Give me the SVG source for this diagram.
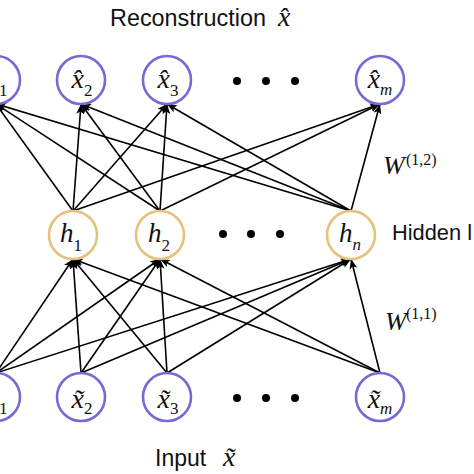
<svg xmlns="http://www.w3.org/2000/svg" width="474" height="474" viewBox="0 0 474 474">
<defs>
<style>
.out{fill:#fff;stroke:#7b68d6;stroke-width:2.6}
.hid{fill:#fff;stroke:#e6c27c;stroke-width:2.6}
.edge{stroke:#000;stroke-width:1.6;fill:none;marker-end:url(#arr)}
.math{font-family:"Liberation Serif","Times New Roman",serif;font-style:italic;fill:#111}
.num{font-style:normal}
.sans{font-family:"Liberation Sans",Arial,sans-serif;fill:#111}
.dot{fill:#000}
</style>
<marker id="arr" viewBox="0 0 10 8" refX="10" refY="4" markerUnits="userSpaceOnUse" markerWidth="10" markerHeight="8" orient="auto">
<path d="M0,0 L10,4 L0,8 L2.5,4 Z" fill="#000"/>
</marker>
</defs>
<rect width="474" height="474" fill="#fff"/>

<text class="sans" x="110" y="26" font-size="23" textLength="156" lengthAdjust="spacingAndGlyphs">Reconstruction</text>
<text class="math" x="278" y="26" font-size="28">x̂</text>

<g id="connectors">
<line class="edge" x1="73" y1="211" x2="-4" y2="104"/>
<line class="edge" x1="73" y1="211" x2="81" y2="104"/>
<line class="edge" x1="73" y1="211" x2="167" y2="104"/>
<line class="edge" x1="73" y1="211" x2="380" y2="104"/>
<line class="edge" x1="160" y1="211" x2="-4" y2="104"/>
<line class="edge" x1="160" y1="211" x2="81" y2="104"/>
<line class="edge" x1="160" y1="211" x2="167" y2="104"/>
<line class="edge" x1="160" y1="211" x2="380" y2="104"/>
<line class="edge" x1="351" y1="211" x2="-4" y2="104"/>
<line class="edge" x1="351" y1="211" x2="81" y2="104"/>
<line class="edge" x1="351" y1="211" x2="167" y2="104"/>
<line class="edge" x1="351" y1="211" x2="380" y2="104"/>
<line class="edge" x1="-4" y1="373" x2="73" y2="259"/>
<line class="edge" x1="-4" y1="373" x2="160" y2="259"/>
<line class="edge" x1="-4" y1="373" x2="351" y2="259"/>
<line class="edge" x1="81" y1="373" x2="73" y2="259"/>
<line class="edge" x1="81" y1="373" x2="160" y2="259"/>
<line class="edge" x1="81" y1="373" x2="351" y2="259"/>
<line class="edge" x1="167" y1="373" x2="73" y2="259"/>
<line class="edge" x1="167" y1="373" x2="160" y2="259"/>
<line class="edge" x1="167" y1="373" x2="351" y2="259"/>
<line class="edge" x1="380" y1="373" x2="73" y2="259"/>
<line class="edge" x1="380" y1="373" x2="160" y2="259"/>
<line class="edge" x1="380" y1="373" x2="351" y2="259"/>
</g>

<g id="node-xhat1"><circle class="out" cx="-4" cy="80" r="24"/><text class="math" x="-3" y="88" font-size="28" text-anchor="middle">x̂<tspan class="num" dy="8" font-size="17">1</tspan></text></g>
<g id="node-xhat2"><circle class="out" cx="81" cy="80" r="24"/><text class="math" x="82" y="88" font-size="28" text-anchor="middle">x̂<tspan class="num" dy="8" font-size="17">2</tspan></text></g>
<g id="node-xhat3"><circle class="out" cx="167" cy="80" r="24"/><text class="math" x="168" y="88" font-size="28" text-anchor="middle">x̂<tspan class="num" dy="8" font-size="17">3</tspan></text></g>
<g id="node-xhatm"><circle class="out" cx="380" cy="80" r="24"/><text class="math" x="380" y="88" font-size="28" text-anchor="middle">x̂<tspan dy="7" font-size="17">m</tspan></text></g>
<g id="dots-top"><circle class="dot" cx="237" cy="81" r="4"/><circle class="dot" cx="266" cy="81" r="4"/><circle class="dot" cx="295" cy="81" r="4"/></g>

<g id="node-h1"><circle class="hid" cx="73" cy="235" r="24"/><text class="math" x="71" y="242" font-size="27" text-anchor="middle">h<tspan class="num" dy="9" font-size="17">1</tspan></text></g>
<g id="node-h2"><circle class="hid" cx="160" cy="235" r="24"/><text class="math" x="159" y="242" font-size="27" text-anchor="middle">h<tspan class="num" dy="9" font-size="17">2</tspan></text></g>
<g id="node-hn"><circle class="hid" cx="351" cy="235" r="24"/><text class="math" x="350" y="242" font-size="27" text-anchor="middle">h<tspan dy="8" font-size="17">n</tspan></text></g>
<g id="dots-mid"><circle class="dot" cx="223" cy="234" r="4"/><circle class="dot" cx="251" cy="234" r="4"/><circle class="dot" cx="280" cy="234" r="4"/></g>
<text class="sans" x="392" y="240" font-size="22.5" textLength="80" lengthAdjust="spacingAndGlyphs">Hidden l</text>

<text class="math" x="383" y="174" font-size="26">W</text>
<text class="math num" x="406" y="165" font-size="16">(1,2)</text>
<text class="math" x="385" y="330" font-size="26">W</text>
<text class="math num" x="406" y="319" font-size="16">(1,1)</text>

<g id="node-xt1"><circle class="out" cx="-4" cy="397" r="24"/><text class="math" x="-3" y="408" font-size="28" text-anchor="middle">x̃<tspan class="num" dy="6" font-size="17">1</tspan></text></g>
<g id="node-xt2"><circle class="out" cx="81" cy="397" r="24"/><text class="math" x="82" y="408" font-size="28" text-anchor="middle">x̃<tspan class="num" dy="6" font-size="17">2</tspan></text></g>
<g id="node-xt3"><circle class="out" cx="167" cy="397" r="24"/><text class="math" x="168" y="408" font-size="28" text-anchor="middle">x̃<tspan class="num" dy="6" font-size="17">3</tspan></text></g>
<g id="node-xtm"><circle class="out" cx="380" cy="397" r="24"/><text class="math" x="380" y="408" font-size="28" text-anchor="middle">x̃<tspan dy="6" font-size="17">m</tspan></text></g>
<g id="dots-bottom"><circle class="dot" cx="237" cy="398" r="4"/><circle class="dot" cx="266" cy="398" r="4"/><circle class="dot" cx="295" cy="398" r="4"/></g>

<text class="sans" x="155" y="466" font-size="23">Input</text>
<text class="math" x="223" y="466" font-size="28">x̃</text>
</svg>
